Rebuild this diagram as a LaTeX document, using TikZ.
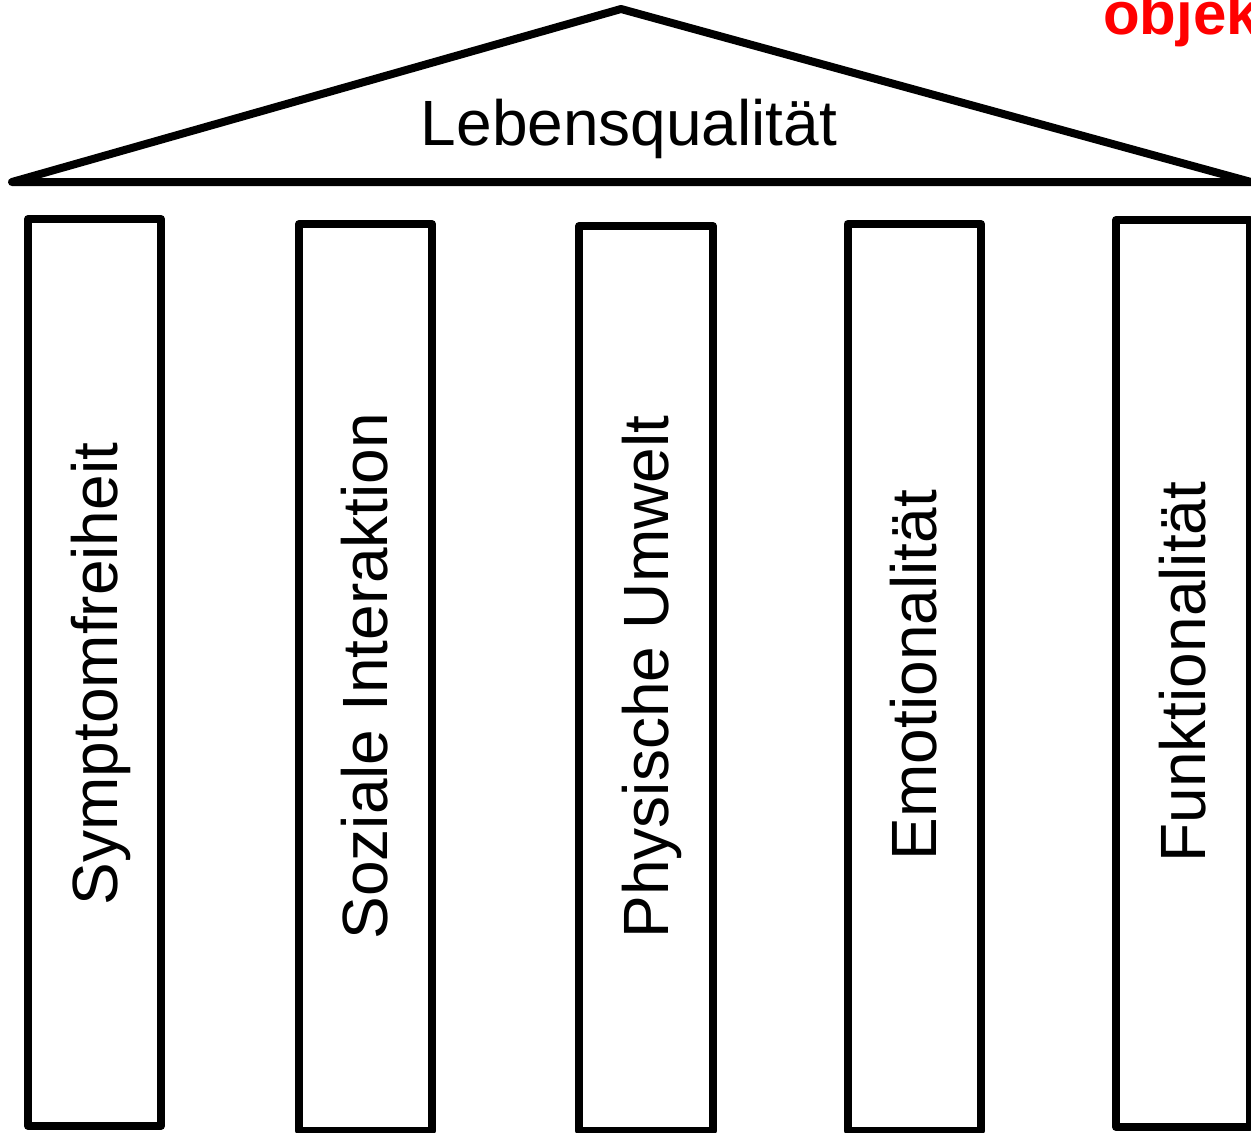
\documentclass[tikz,border=0pt]{standalone}
\usepackage{fontspec}
\setmainfont{Liberation Sans}
\begin{document}
\begin{tikzpicture}[x=0.75pt,y=-0.75pt,
  thickline/.style={line width=6pt,line join=round,line cap=round},
  pillartext/.style={rotate=90,anchor=base,inner sep=0pt,font=\fontsize{48}{58}\selectfont},
  rooftext/.style={anchor=base,inner sep=0pt,font=\fontsize{48}{58}\selectfont},
  redtext/.style={anchor=base west,inner sep=0pt,text=red,font=\fontsize{45}{54}\selectfont\bfseries}]
\useasboundingbox (0,0) rectangle (1251,1132);
\clip (0,0) rectangle (1251,1132);
% roof
\coordinate (L) at (12,182);
\coordinate (A) at (621,9);
\coordinate (R) at (1251,182);
\draw[thickline] (L) -- (A) -- (R) -- cycle;
\node[rooftext] (roof) at (629,145) {Lebensqualität};
% pillars
\draw[thickline] (28,219) rectangle (161,1126);
\draw[thickline] (299,224) rectangle (432,1131);
\draw[thickline] (579,226) rectangle (713,1131);
\draw[thickline] (847.5,224) rectangle (981,1131);
\draw[thickline] (1116,220) rectangle (1250,1127);
\node[pillartext] (p1) at (117,674) {Symptomfreiheit};
\node[pillartext] (p2) at (387,676) {Soziale Interaktion};
\node[pillartext] (p3) at (668,677) {Physische Umwelt};
\node[pillartext] (p4) at (936,675) {Emotionalität};
\node[pillartext] (p5) at (1205,672) {Funktionalität};
\node[redtext] (obj) at (1103,34) {objek};
\end{tikzpicture}
\end{document}
